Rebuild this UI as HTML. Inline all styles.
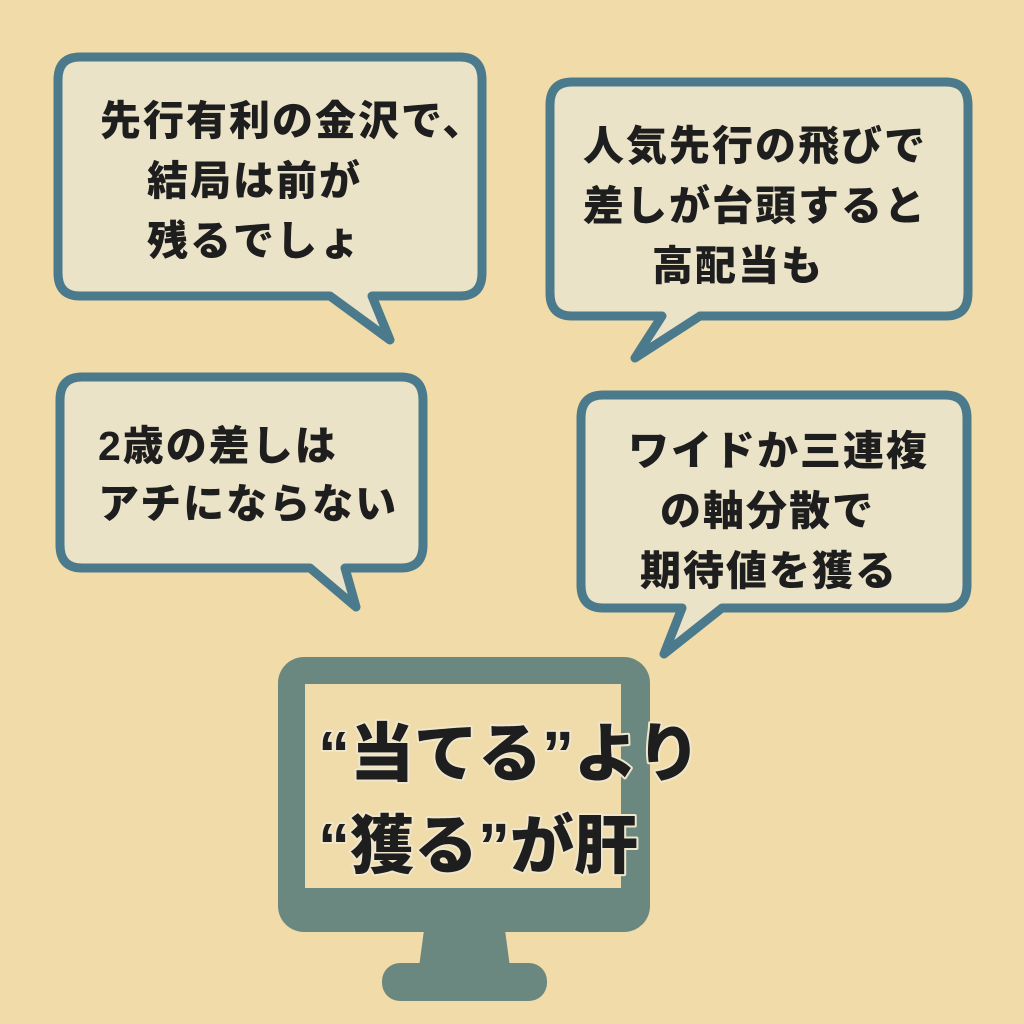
<!DOCTYPE html>
<html><head><meta charset="utf-8"><style>
html,body{margin:0;padding:0;background:#f1dca9;}
svg{display:block}
text{font-family:"Liberation Sans","Noto Sans CJK JP",sans-serif;font-weight:900;fill:#1e1e1e;}
.o{stroke:#efe6cc;stroke-width:4;paint-order:stroke;stroke-linejoin:round}
</style></head><body>
<svg width="1024" height="1024" viewBox="0 0 1024 1024">
<rect width="1024" height="1024" fill="#f1dca9"/>
<g fill="#ebe3c8" stroke="#4a7a8c" stroke-width="9" stroke-linejoin="round">
<path d="M80,57 H460 Q482,57 482,80 V273 Q482,296 460,296 H372 L390,340 L330,296 H80 Q58,296 58,273 V80 Q58,57 80,57 Z"/>
<path d="M572,82 H946 Q968,82 968,105 V293 Q968,316 946,316 H700 L635,358 L662,316 H572 Q550,316 550,293 V105 Q550,82 572,82 Z"/>
<path d="M82,377 H401 Q423,377 423,400 V545 Q423,568 401,568 H345 L356,607 L310,568 H82 Q60,568 60,545 V400 Q60,377 82,377 Z"/>
<path d="M603,395 H945 Q967,395 967,418 V585 Q967,608 945,608 H722 L664,654 L682,608 H603 Q581,608 581,585 V418 Q581,395 603,395 Z"/>
</g>
<g font-size="41" letter-spacing="2">
<text x="100" y="135">先行有利の金沢で、</text>
<text x="147" y="195">結局は前が</text>
<text x="147" y="255">残るでしょ</text>
<text x="583" y="160">人気先行の飛びで</text>
<text x="583" y="220">差しが台頭すると</text>
<text x="652" y="280">高配当も</text>
<text x="98" y="460">2歳の差しは</text>
<text x="98" y="518">アチにならない</text>
<text x="628" y="465">ワイドか三連複</text>
<text x="660" y="525">の軸分散で</text>
<text x="640" y="585">期待値を獲る</text>
</g>
<rect x="278" y="657" width="372" height="275" rx="26" fill="#6b8880"/>
<rect x="305" y="684" width="316" height="204" fill="#efdcaa"/>
<path d="M424,930 H505 L510,967 H419 Z" fill="#6b8880"/>
<rect x="382" y="963" width="165" height="38" rx="18" fill="#6b8880"/>
<g font-size="64">
<text class="o" x="318" y="776">“当てる”より</text>
<text class="o" x="318" y="868">“獲る”が肝</text>
</g>
</svg>
</body></html>
